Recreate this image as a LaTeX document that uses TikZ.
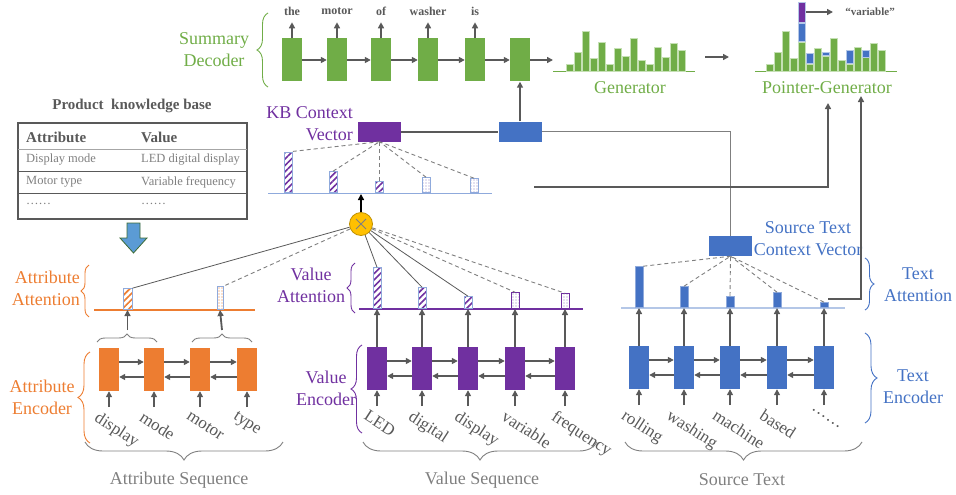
\documentclass[tikz,border=0pt]{standalone}
\usepackage{fontspec}
\setmainfont{Liberation Serif}
\usetikzlibrary{arrows.meta,decorations.pathreplacing,patterns.meta,calc}
\definecolor{cgreen}{HTML}{70AD47}
\definecolor{clgreen}{HTML}{C5E0B4}
\definecolor{corange}{HTML}{ED7D31}
\definecolor{cpurple}{HTML}{7030A0}
\definecolor{cblue}{HTML}{4472C4}
\definecolor{clblue}{HTML}{8FAADC}
\definecolor{cllblue}{HTML}{B4C7E7}
\definecolor{cdgray}{HTML}{595959}
\definecolor{cgray}{HTML}{7F7F7F}
\definecolor{cyel}{HTML}{FFC000}
\definecolor{cyelb}{HTML}{BF9000}
\definecolor{cdot}{HTML}{8E7CC3}
\definecolor{carrowblue}{HTML}{5B9BD5}
\definecolor{carrowedge}{HTML}{3D6B35}
\begin{document}
\begin{tikzpicture}[x=1pt,y=-1pt,
  lab/.style={font=\fontsize{18}{22}\selectfont, align=center, inner sep=0},
  arr/.style={draw=cdgray, line width=1.8pt, -{Triangle[length=6pt,width=6pt]}},
  encbox/.style={rectangle, inner sep=0, minimum width=20pt, minimum height=43pt, draw=none},
  ctxbox/.style={rectangle, inner sep=0, minimum width=43pt, minimum height=20pt, draw=none},
  stripebar/.style={rectangle, inner sep=0, minimum width=8pt, draw=clblue, line width=0.8pt, anchor=south,
     pattern={Lines[angle=45,distance=4.5pt,line width=1.6pt]}, pattern color=#1},
  dotbar/.style={rectangle, inner sep=0, minimum width=8pt, draw=clblue, line width=0.8pt, anchor=south,
     pattern={Dots[distance=3pt,radius=0.6pt]}, pattern color=#1},
  solidbar/.style={rectangle, inner sep=0, minimum width=8pt, draw=clblue, line width=0.8pt, anchor=south, fill=cblue},
  att/.style={draw=cdgray, line width=0.8pt},
  attd/.style={draw=cgray, line width=0.9pt, dash pattern=on 4pt off 3pt},
  brc/.style={decorate, decoration={brace, amplitude=#1}, line width=0.9pt},
  word/.style={font=\fontsize{17}{17}\selectfont, text=cdgray, rotate=-33, anchor=north west, inner sep=0},
  dword/.style={font=\bfseries\fontsize{12}{12}\selectfont, text=cdgray, inner sep=0},
  hbar/.style={fill=cgreen, draw=clgreen, line width=0.5pt},
  obar/.style={fill=cblue, draw=cllblue, line width=0.5pt},
  seqlab/.style={font=\fontsize{18}{22}\selectfont, text=cgray, inner sep=0}
]
\useasboundingbox (0,0) rectangle (956,495);

% ---------------- Summary decoder ----------------
\node[lab, text=cgreen] (sdlab) at (214,50) {Summary\\Decoder};
\draw[brc=11pt, cgreen] (268,87) -- (268,13);
\foreach \i/\x in {1/292,2/337,3/381,4/428,5/475,6/520}
  \node[encbox, fill=cgreen] (d\i) at (\x,60) {};
\foreach \i/\j in {1/2,2/3,3/4,4/5,5/6}
  \draw[arr] (d\i) -- (d\j);
\coordinate (genin) at (553,60);
\draw[arr] (d6) -- (genin);
\foreach \i/\w in {1/the,2/motor,3/of,4/washer,5/is}{
  \node[dword] (wd\i) at ($(d\i.north)+(0,-27)$) {\w};
  \draw[arr] (d\i.north) -- ++(0,-16);
}

% ---------------- Generator ----------------
\draw[cgreen, line width=0.9pt] (553,71) -- (695,71);
\foreach \h [count=\i from 0] in {6.7,18.3,39.7,12.3,28.7,6.7,22.3,14.7,32.3,11,6.7,23.3,13.3,27.7,20.3}
  \filldraw[hbar] ({566+8*\i},71) rectangle ++(7.3,-\h);
\node[lab, text=cgreen] (genlab) at (630,88) {Generator};
\coordinate (g2a) at (705,57);
\coordinate (g2b) at (729,57);
\draw[arr] (g2a) -- (g2b);

% ---------------- Pointer-Generator ----------------
\draw[cgreen, line width=0.9pt] (755,71) -- (897,71);
\foreach \h [count=\i from 0] in {6.7,18.3,39.7,12.3,28.7,6.7,22.3,14.7,32.3,11,6.7,23.3,13.3,27.7,20.3}
  \filldraw[hbar] ({766+8*\i},71) rectangle ++(7.3,-\h);
\filldraw[obar] (798,41.7) rectangle (805.3,23.3);
\filldraw[obar] (806,63.3) rectangle (813.3,53);
\filldraw[obar] (822,55.3) rectangle (829.3,52.7);
\filldraw[obar] (846,63.3) rectangle (853.3,50.7);
\filldraw[obar] (862,57.3) rectangle (869.3,50.7);
\node[rectangle, inner sep=0, minimum width=7.3pt, minimum height=20.4pt, fill=cpurple, draw=cllblue, line width=0.5pt, anchor=south west] (pvar) at (798,22.7) {};
\coordinate (varend) at (833,12);
\draw[arr] (pvar.east |- varend) -- (varend);
\node[font=\bfseries\fontsize{11}{11}\selectfont, text=cdgray] (varlab) at (870,12) {“variable”};
\node[lab, text=cgreen] (pglab) at (827,88) {Pointer-Generator};

% ---------------- Context vectors ----------------
\node[ctxbox, fill=cblue] (decin) at (520,131.5) {};
\node[ctxbox, fill=cpurple] (kbctx) at (379.5,131.5) {};
\node[ctxbox, fill=cblue] (stctx) at (730.5,246) {};
\draw[arr] (decin) -- (d6);
\draw[cdgray, line width=2pt] (kbctx) -- (decin);
\draw[cgray, line width=1.3pt] (decin) -| (stctx);
\node[lab, align=right, anchor=east, text=cpurple] (kblab) at (353,123.5) {KB Context\\Vector};
\node[lab, text=cblue] (stlab) at (808,238.5) {Source Text\\Context Vector};

% ---------------- KB attention ----------------
\draw[clblue, line width=1pt] (268,193) -- (492,193);
\node[stripebar=cpurple, minimum height=40pt] (k1) at (288,193) {};
\node[stripebar=cpurple, minimum height=21pt] (k2) at (333,193) {};
\node[stripebar=cpurple, minimum height=11pt] (k3) at (379.5,193) {};
\node[dotbar=cdot, minimum height=15pt] (k4) at (426,193) {};
\node[dotbar=cdot, minimum height=14pt] (k5) at (474,193) {};
\draw[attd] (k1.north east) -- (kbctx.south);
\foreach \i in {2,...,5} \draw[attd] (k\i.north) -- (kbctx.south);

% multiplication node
\node[circle, fill=cyel, draw=cyelb, line width=0.8pt, minimum size=23pt, inner sep=0] (mul) at (361,224) {};
\draw[cgray, line width=1pt] ($(mul)+(-5,-5)$) -- ($(mul)+(5,5)$) ($(mul)+(-5,5)$) -- ($(mul)+(5,-5)$);
\coordinate (kbbase) at (361,194);
\draw[black, line width=2pt, -{Triangle[length=6pt,width=6pt]}] (mul) -- (kbbase);

% ---------------- Attribute ----------------
\draw[corange, line width=1.2pt] (94,310) -- (255,310);
\node[stripebar=corange, minimum width=9pt, minimum height=21pt] (ab1) at (127.5,310) {};
\node[dotbar=corange, minimum width=6pt, minimum height=23pt] (ab2) at (220,310) {};
\draw[att] (mul) -- (ab1.north east);
\draw[attd] (mul) -- (ab2.north east);
\node[lab, align=right, anchor=east, text=corange] (aalab) at (80,288.5) {Attribute\\Attention};
\draw[brc=8pt, corange] (89,317) -- (89,265);
\foreach \i/\x in {1/109,2/154,3/200,4/247}
  \node[encbox, fill=corange] (ae\i) at (\x,369.5) {};
\foreach \i/\j in {1/2,2/3,3/4}{
  \draw[arr] ([yshift=7.5pt]ae\i.east) -- ([yshift=7.5pt]ae\j.west);
  \draw[arr] ([yshift=-7.5pt]ae\j.west) -- ([yshift=-7.5pt]ae\i.east);
}
\draw[brc=8pt, cgray] (97,342) -- (157,342);
\draw[brc=8pt, cgray] (192,342) -- (252,342);
\coordinate (sb1) at (127.5,330);
\coordinate (sb2) at (222,330);
\draw[arr] (sb1) -- (ab1.south);
\draw[arr] (sb2) -- (ab2.south);
\foreach \i/\w in {1/display,2/mode,3/motor,4/type}{
  \draw[arr] ([yshift=-16pt]ae\i.south) -- (ae\i.south);
  \node[word] at ($(ae\i.south)+(-9,19)$) {\w};
}
\node[lab, text=corange] (aelab) at (42,397) {Attribute\\Encoder};
\draw[brc=12pt, corange] (90,443) -- (90,352);
\draw[brc=18pt, cgray] (283,442) -- (85,442);
\node[seqlab] (aslab) at (179,480) {Attribute Sequence};

% ---------------- Value ----------------
\draw[cpurple, line width=1.2pt] (359,309) -- (583,309);
\node[stripebar=cpurple, minimum height=41pt] (vb1) at (377,309) {};
\node[stripebar=cpurple, minimum height=21pt] (vb2) at (422,309) {};
\node[stripebar=cpurple, minimum height=12pt] (vb3) at (468,309) {};
\node[dotbar=cdot, draw=cpurple, minimum height=16pt] (vb4) at (515,309) {};
\node[dotbar=cdot, draw=cpurple, minimum height=15pt] (vb5) at (565,309) {};
\foreach \i in {1,2,3} \draw[att] (mul) -- (vb\i.north);
\foreach \i in {4,5} \draw[attd] (mul) -- (vb\i.north);
\node[lab, text=cpurple] (valab) at (311,285) {Value\\Attention};
\draw[brc=8pt, cpurple] (355,313) -- (355,263);
\foreach \i/\x in {1/377,2/422,3/468,4/515,5/565}
  \node[encbox, fill=cpurple] (ve\i) at (\x,368.5) {};
\foreach \i/\j in {1/2,2/3,3/4,4/5}{
  \draw[arr] ([yshift=7.5pt]ve\i.east) -- ([yshift=7.5pt]ve\j.west);
  \draw[arr] ([yshift=-7.5pt]ve\j.west) -- ([yshift=-7.5pt]ve\i.east);
}
\foreach \i in {1,...,5} \draw[arr] (ve\i.north) -- (vb\i.south);
\foreach \i/\w in {1/LED,2/digital,3/display,4/variable,5/frequency}{
  \draw[arr] ([yshift=-16pt]ve\i.south) -- (ve\i.south);
  \node[word] at ($(ve\i.south)+(-8,19)$) {\w};
}
\node[lab, text=cpurple] (velab) at (326,388.5) {Value\\Encoder};
\draw[brc=11pt, cpurple] (362,433) -- (362,345);
\draw[brc=18pt, cgray] (597,442) -- (363,442);
\node[seqlab] (vslab) at (482,480) {Value Sequence};

% ---------------- Source text ----------------
\draw[cllblue, line width=2pt] (621,308) -- (845,308);
\node[solidbar, minimum height=41pt] (tb1) at (639,308) {};
\node[solidbar, minimum height=21pt] (tb2) at (684,308) {};
\node[solidbar, minimum height=11pt] (tb3) at (730,308) {};
\node[solidbar, minimum height=15pt] (tb4) at (777,308) {};
\node[solidbar, minimum height=5pt] (tb5) at (824,308) {};
\draw[attd] (tb1.north east) -- (stctx.south);
\foreach \i in {2,...,5} \draw[attd] (tb\i.north) -- (stctx.south);
\foreach \i/\x in {1/639,2/684,3/730,4/777,5/824}
  \node[encbox, fill=cblue] (te\i) at (\x,367.5) {};
\foreach \i/\j in {1/2,2/3,3/4,4/5}{
  \draw[arr] ([yshift=7.5pt]te\i.east) -- ([yshift=7.5pt]te\j.west);
  \draw[arr] ([yshift=-7.5pt]te\j.west) -- ([yshift=-7.5pt]te\i.east);
}
\foreach \i in {1,...,5} \draw[arr] (te\i.north) -- (tb\i.south);
\foreach \i/\w in {1/rolling,2/washing,3/machine,4/based,5/……}{
  \draw[arr] ([yshift=-16pt]te\i.south) -- (te\i.south);
  \node[word] at ($(te\i.south)+(-12,19)$) {\w};
}
\node[lab, text=cblue] (talab) at (918,285) {Text\\Attention};
\draw[brc=9pt, cblue] (865,258) -- (865,310);
\node[lab, text=cblue] (telab) at (913,387) {Text\\Encoder};
\draw[brc=12pt, cblue] (865,333) -- (865,423);
\draw[brc=18pt, cgray] (862,442) -- (625,442);
\node[seqlab] (stslab) at (742,480) {Source Text};

% ---------------- to pointer-generator ----------------
\coordinate (kbout) at (534,187);
\coordinate (pgin1) at (828,103);
\draw[arr, line width=2pt] (kbout) -| (pgin1);
\coordinate (pgin2) at (861,96);
\draw[arr, line width=2pt] ([yshift=3pt]tb5.north east) -| (pgin2);

% ---------------- Knowledge base table ----------------
\node[font=\bfseries\fontsize{15}{15}\selectfont, text=cdgray] (kbtitle) at (132,106) {Product\ \ knowledge base};
\draw[cdgray, line width=1.2pt] (18,123) rectangle (247,219);
\draw[black!35, line width=0.8pt] (18,149) -- (247,149);
\draw[cdgray, line width=1pt] (18,171) -- (247,171);
\draw[cdgray, line width=1pt] (18,193) -- (247,193);
\begin{scope}[every node/.style={anchor=west, inner sep=0, text=cgray, font=\fontsize{12.5}{14}\selectfont}]
  \node[font=\bfseries\fontsize{15}{15}\selectfont, text=cdgray] (th1) at (26,137) {Attribute};
  \node[font=\bfseries\fontsize{15}{15}\selectfont, text=cdgray] (th2) at (141,137) {Value};
  \node (r11) at (26,160) {Display mode};
  \node (r12) at (141,160) {LED digital display};
  \node (r21) at (26,182) {Motor type};
  \node (r22) at (141,182) {Variable frequency};
  \node (r31) at (26,204) {……};
  \node (r32) at (141,204) {……};
\end{scope}
\filldraw[fill=carrowblue, draw=carrowedge, line width=0.8pt]
  (127,223) -- (140,223) -- (140,238) -- (147,238) -- (133.5,253) -- (120,238) -- (127,238) -- cycle;
\end{tikzpicture}
\end{document}
